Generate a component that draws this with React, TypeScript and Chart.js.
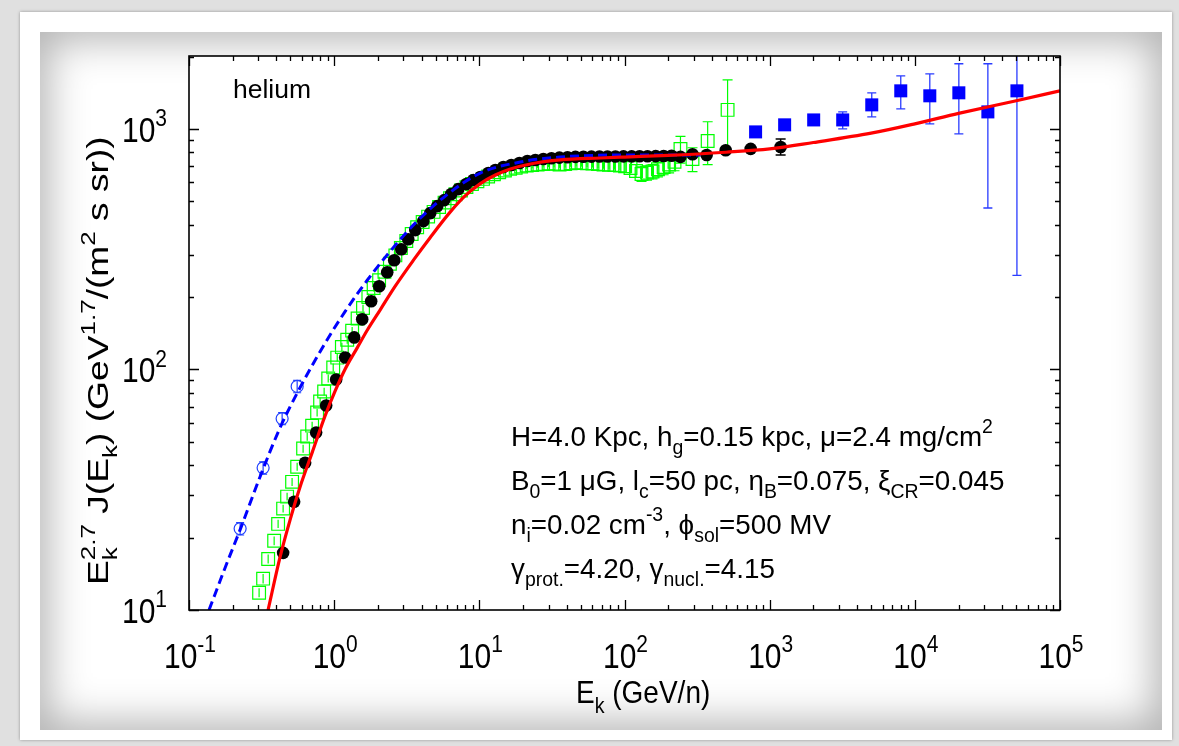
import React, { useEffect, useRef } from "react";
import { Chart, registerables } from "chart.js";

Chart.register(...registerables);

// ---------------- data ----------------
// model curve (solid red)
const modelRedE = [0.3505, 0.4242, 0.4971, 0.5827, 0.7051, 0.8668, 1.016, 1.191, 1.441, 1.689, 2.076, 2.634, 3.506, 4.592, 6.31, 8.007, 10.16, 12.89, 16.36, 22.47, 36.2, 68.3, 100, 200, 500, 1000, 2000, 5000, 10000, 20000, 50000, 100000];
const modelRedFlux = [10, 16.63, 23.71, 32.54, 45.1, 64.3, 81.5, 100.5, 123, 145.5, 177, 222, 284, 354, 452, 528, 592, 643, 681, 715, 743, 757, 764, 776, 800, 826, 878, 960, 1050, 1160, 1310, 1440];

// model curve (dashed blue)
const modelBlueE = [0.1374, 0.1771, 0.2247, 0.3088, 0.4242, 0.5827, 0.8397, 1.191, 1.689, 2.433, 3.506, 5.829, 10.16, 19.18, 36.2, 100, 334];
const modelBlueFlux = [10, 14.96, 21.54, 35.83, 57.3, 84.1, 124.7, 174.4, 234.9, 310.1, 398.1, 525.9, 655.6, 728.6, 764.2, 779, 779];

// black filled circles
const blackE = [0.445, 0.5299, 0.631, 0.7513, 0.8808, 1.032, 1.191, 1.374, 1.56, 1.799, 2.043, 2.32, 2.593, 2.898, 3.237, 3.619, 4.11, 4.592, 5.133, 5.737, 6.411, 7.165, 8.136, 9.092, 10.16, 11.54, 12.89, 14.64, 16.6, 18.88, 21.43, 24.3, 27.6, 31.4, 35.6, 40.5, 45.9, 52.1, 59.2, 67.2, 76.3, 86.6, 98.4, 112, 127, 144, 164, 186, 211, 243, 294, 368, 498, 740, 1190];
const blackFlux = [17.28, 28.18, 40.97, 54.64, 70.79, 90.85, 112.2, 135.9, 161.6, 192, 221.8, 253.6, 284.6, 316.2, 348, 379.6, 413.7, 446.7, 477.8, 506, 536, 562, 590, 613, 631, 656, 675, 695, 708, 722, 736, 743, 750, 755, 760, 763, 765, 766, 767, 768, 768, 768, 769, 769, 770, 770, 771, 772, 774, 765, 785, 779, 815, 826, 841];
const blackBarE = [1190];
const blackBarLow = [779];
const blackBarHigh = [908];

// green open squares
const greenE = [0.304, 0.324, 0.351, 0.386, 0.411, 0.445, 0.474, 0.513, 0.556, 0.611, 0.652, 0.705, 0.763, 0.8, 0.853, 0.91, 0.985, 1.05, 1.13, 1.23, 1.33, 1.45, 1.58, 1.72, 1.87, 2.04, 2.22, 2.42, 2.64, 2.88, 3.14, 3.42, 3.73, 4.07, 4.44, 4.84, 5.28, 5.76, 6.28, 6.85, 7.47, 8.15, 8.89, 9.7, 10.6, 11.5, 12.6, 13.7, 15, 16.3, 17.8, 19.4, 21.2, 23.1, 25.2, 27.5, 30, 32.7, 35.7, 39, 42.5, 46.4, 50.6, 55.2, 60.2, 65.7, 71.7, 78.2, 85.3, 93, 101, 110, 120, 131, 143, 156, 170, 186, 203, 221, 243, 294, 374, 513];
const greenFlux = [11.8, 13.5, 16.3, 19.4, 22.8, 26.4, 29.6, 34.1, 39.4, 46.9, 52.6, 58.4, 66.2, 73.6, 81, 91.7, 102, 112, 124, 133, 145, 163, 180, 200, 218, 235, 255, 275, 298, 320, 342, 366, 390, 410, 432, 452, 474, 494, 515, 535, 555, 573, 590, 606, 620, 634, 648, 660, 672, 682, 690, 698, 704, 708, 712, 715, 718, 716, 712, 715, 720, 725, 722, 720, 718, 715, 712, 710, 708, 705, 700, 688, 668, 650, 658, 665, 680, 695, 712, 730, 826, 750, 891, 1200];
const greenErr = [0.5, 0.6, 0.7, 0.8, 0.9, 1.0, 1.1, 1.3, 1.5, 1.8, 2, 2.2, 2.5, 2.8, 3, 3.5, 4, 4, 5, 5, 5, 6, 6, 7, 7, 8, 8, 9, 9, 10, 10, 11, 12, 12, 13, 13, 14, 15, 15, 16, 16, 17, 18, 18, 19, 19, 20, 20, 20, 21, 21, 21, 22, 22, 22, 22, 23, 23, 23, 24, 24, 25, 25, 26, 27, 28, 29, 30, 31, 32, 33, 35, 40, 45, 45, 45, 48, 50, 55, 60, 105, 85, 180, 400];

// blue open circles (low energy)
const blueCircE = [0.225, 0.324, 0.438, 0.556];
const blueCircFlux = [21.8, 39, 62.5, 85];
const blueCircErr = [1.3, 2.3, 3.6, 5];

// blue filled squares (high energy)
const blueSqE = [800, 1268, 2010, 3185, 5050, 8000, 12680, 20100, 31850, 50500];
const blueSqFlux = [972, 1040, 1090, 1090, 1259, 1440, 1373, 1413, 1177, 1440];
const blueSqLow = [950, 1015, 1060, 1000, 1122, 1211, 1049, 953, 469, 246];
const blueSqHigh = [995, 1065, 1120, 1178, 1413, 1663, 1694, 1866, 1866, 3000];

// axes
const xMin = 0.1;
const xMax = 100000;
const yMin = 10;
const yMax = 2010;
const xTickExps = [-1, 0, 1, 2, 3, 4, 5];
const yTickExps = [1, 2, 3];

// texts
type Seg = { t?: string; sub?: string; sup?: string };
const labelText = "helium";
const paramLines: Seg[][] = [
  [{ t: "H=4.0 Kpc, h" }, { sub: "g" }, { t: "=0.15 kpc, \u03bc=2.4 mg/cm" }, { sup: "2" }],
  [{ t: "B" }, { sub: "0" }, { t: "=1 \u03bcG, l" }, { sub: "c" }, { t: "=50 pc, \u03b7" }, { sub: "B" }, { t: "=0.075, \u03be" }, { sub: "CR" }, { t: "=0.045" }],
  [{ t: "n" }, { sub: "i" }, { t: "=0.02 cm" }, { sup: "-3" }, { t: ", \u03d5" }, { sub: "sol" }, { t: "=500 MV" }],
  [{ t: "\u03b3" }, { sub: "prot." }, { t: "=4.20, \u03b3" }, { sub: "nucl." }, { t: "=4.15" }],
];
const xTitle: Seg[] = [{ t: "E" }, { sub: "k" }, { t: " (GeV/n)" }];
const yTitle: Seg[] = [{ t: "E" }, { sub: "k", sup: "2.7" }, { t: " J(E" }, { sub: "k" }, { t: ") (GeV" }, { sup: "1.7" }, { t: "/(m" }, { sup: "2" }, { t: " s sr))" }];

const FAM = '"Liberation Sans", Arial, Helvetica, sans-serif';

function pts(xs: number[], ys: number[]) {
  return xs.map((x, i) => ({ x, y: ys[i] }));
}

function richWidth(ctx: CanvasRenderingContext2D, segs: Seg[], size: number) {
  let w = 0;
  for (const s of segs) {
    if (s.t !== undefined) {
      ctx.font = `${size}px ${FAM}`;
      w += ctx.measureText(s.t).width;
    } else {
      ctx.font = `${size * 0.7}px ${FAM}`;
      const a = s.sub ? ctx.measureText(s.sub).width : 0;
      const b = s.sup ? ctx.measureText(s.sup).width : 0;
      w += Math.max(a, b);
    }
  }
  return w;
}

function drawRich(
  ctx: CanvasRenderingContext2D,
  segs: Seg[],
  x: number,
  y: number,
  size: number,
  align: "left" | "center" | "right",
  sx = 1,
  sy = 1,
  rot = 0
) {
  ctx.save();
  ctx.translate(x, y);
  if (rot) ctx.rotate(rot);
  ctx.scale(sx, sy);
  const w = richWidth(ctx, segs, size);
  let cx = align === "center" ? -w / 2 : align === "right" ? -w : 0;
  ctx.textAlign = "left";
  ctx.textBaseline = "alphabetic";
  ctx.fillStyle = "#000";
  for (const s of segs) {
    if (s.t !== undefined) {
      ctx.font = `${size}px ${FAM}`;
      ctx.fillText(s.t, cx, 0);
      cx += ctx.measureText(s.t).width;
    } else {
      ctx.font = `${size * 0.7}px ${FAM}`;
      let a = 0;
      let b = 0;
      if (s.sub) {
        ctx.fillText(s.sub, cx, size * 0.3);
        a = ctx.measureText(s.sub).width;
      }
      if (s.sup) {
        ctx.fillText(s.sup, cx, -size * 0.45);
        b = ctx.measureText(s.sup).width;
      }
      cx += Math.max(a, b);
    }
  }
  ctx.restore();
}

type ErrSet = { E: number[]; lo: number[]; hi: number[]; color: string; width: number; cap: number; half: number };

const errorSets: ErrSet[] = [
  { E: greenE, lo: greenFlux.map((v, i) => v - greenErr[i]), hi: greenFlux.map((v, i) => v + greenErr[i]), color: "#00ff00", width: 1.2, cap: 5, half: 6.5 },
  { E: blueCircE, lo: blueCircFlux.map((v, i) => v - blueCircErr[i]), hi: blueCircFlux.map((v, i) => v + blueCircErr[i]), color: "#2040ff", width: 1.2, cap: 4, half: 6 },
  { E: blueSqE, lo: blueSqLow, hi: blueSqHigh, color: "#2a3cff", width: 1.3, cap: 4.5, half: 6.5 },
  { E: blackBarE, lo: blackBarLow, hi: blackBarHigh, color: "#000", width: 1.5, cap: 5, half: 6 },
];

const decorPlugin = {
  id: "decor",
  beforeDraw(chart: any) {
    const { ctx, chartArea: a } = chart;
    ctx.save();
    ctx.fillStyle = "#ffffff";
    ctx.fillRect(a.left, a.top, a.right - a.left, a.bottom - a.top);
    ctx.restore();
  },
  beforeDatasetsDraw(chart: any) {
    const { ctx, chartArea: a } = chart;
    const xs = chart.scales.x;
    const ys = chart.scales.y;
    ctx.save();
    ctx.beginPath();
    ctx.rect(a.left, a.top, a.right - a.left, a.bottom - a.top);
    ctx.clip();
    for (const s of errorSets) {
      ctx.strokeStyle = s.color;
      ctx.lineWidth = s.width;
      for (let i = 0; i < s.E.length; i++) {
        const px = xs.getPixelForValue(s.E[i]);
        const y1 = ys.getPixelForValue(Math.max(s.lo[i], 1));
        const y2 = ys.getPixelForValue(s.hi[i]);
        ctx.beginPath();
        ctx.moveTo(px, y1);
        ctx.lineTo(px, y2);
        if (Math.abs(y1 - y2) / 2 > s.half) {
          ctx.moveTo(px - s.cap, y1);
          ctx.lineTo(px + s.cap, y1);
          ctx.moveTo(px - s.cap, y2);
          ctx.lineTo(px + s.cap, y2);
        }
        ctx.stroke();
      }
    }
    ctx.restore();
  },
  afterDraw(chart: any) {
    const { ctx, chartArea: a } = chart;
    const xs = chart.scales.x;
    const ys = chart.scales.y;
    ctx.save();
    // ticks
    ctx.strokeStyle = "#000";
    ctx.lineWidth = 1.3;
    ctx.beginPath();
    for (const d of xTickExps) {
      for (let m = 1; m <= 9; m++) {
        const v = m * Math.pow(10, d);
        if (v > xMax * 1.0001) break;
        const px = Math.round(xs.getPixelForValue(v)) + 0.5;
        const len = m === 1 ? 10 : 5;
        ctx.moveTo(px, a.bottom);
        ctx.lineTo(px, a.bottom - len);
        ctx.moveTo(px, a.top);
        ctx.lineTo(px, a.top + len);
      }
    }
    for (const d of yTickExps) {
      for (let m = 1; m <= 9; m++) {
        const v = m * Math.pow(10, d);
        if (v > yMax) break;
        const py = Math.round(ys.getPixelForValue(v)) + 0.5;
        const len = m === 1 ? 10 : 5;
        ctx.moveTo(a.left, py);
        ctx.lineTo(a.left + len, py);
        ctx.moveTo(a.right, py);
        ctx.lineTo(a.right - len, py);
      }
    }
    ctx.stroke();
    // frame
    ctx.lineWidth = 1.6;
    ctx.strokeRect(a.left, a.top, a.right - a.left, a.bottom - a.top);

    // tick labels
    for (const e of xTickExps) {
      const px = xs.getPixelForValue(Math.pow(10, e));
      drawRich(ctx, [{ t: "10" }, { sup: String(e) }], px + 1, a.bottom + 58, 30, "center", 1, 1.15);
    }
    for (const e of yTickExps) {
      const py = ys.getPixelForValue(Math.pow(10, e));
      drawRich(ctx, [{ t: "10" }, { sup: String(e) }], a.left - 22, py + 13, 30, "right", 1, 1.15);
    }
    // axis titles
    drawRich(ctx, xTitle, 576, 703, 28, "left", 1, 1.15);
    drawRich(ctx, yTitle, 108, 585, 29.5, "left", 1.26, 1, -Math.PI / 2);

    // labels inside
    drawRich(ctx, [{ t: labelText }], 233, 98, 26.5, "left");
    paramLines.forEach((segs, i) => {
      drawRich(ctx, segs, 511, 446 + i * 44, 27.8, "left");
    });
    ctx.restore();
  },
};

export default function App() {
  const ref = useRef<HTMLCanvasElement>(null);
  useEffect(() => {
    document.body.style.margin = "0";
    const canvas = ref.current!;
    const chart = new Chart(canvas, {
      type: "scatter",
      data: {
        datasets: [
          {
            type: "line",
            label: "model nuclei",
            data: pts(modelRedE, modelRedFlux),
            borderColor: "#ff0000",
            borderWidth: 3.2,
            pointRadius: 0,
            cubicInterpolationMode: "monotone",
            fill: false,
            order: 0,
            clip: 0,
          } as any,
          {
            type: "line",
            label: "model dashed",
            data: pts(modelBlueE, modelBlueFlux),
            borderColor: "#0000ff",
            borderWidth: 3,
            borderDash: [9, 5],
            pointRadius: 0,
            cubicInterpolationMode: "monotone",
            fill: false,
            order: 1,
            clip: 0,
          } as any,
          {
            label: "blue squares",
            data: pts(blueSqE, blueSqFlux),
            pointStyle: "rect",
            pointRadius: 9.2,
            backgroundColor: "#0000ff",
            borderWidth: 0,
            order: 2,
          },
          {
            label: "blue circles",
            data: pts(blueCircE, blueCircFlux),
            pointStyle: "circle",
            pointRadius: 6,
            backgroundColor: "rgba(0,0,0,0)",
            borderColor: "#2040ff",
            borderWidth: 1.2,
            order: 3,
          },
          {
            label: "black",
            data: pts(blackE, blackFlux),
            pointStyle: "circle",
            pointRadius: 6.3,
            backgroundColor: "#000",
            borderWidth: 0,
            order: 4,
          },
          {
            label: "green",
            data: pts(greenE, greenFlux),
            pointStyle: "rect",
            pointRadius: 9,
            backgroundColor: "rgba(0,0,0,0)",
            borderColor: "#00ff00",
            borderWidth: 1.2,
            order: 5,
          },
        ],
      },
      options: {
        responsive: false,
        animation: false,
        devicePixelRatio: 1,
        layout: { padding: { left: 189, top: 56, right: 119, bottom: 136 } },
        plugins: { legend: { display: false }, tooltip: { enabled: false } },
        scales: {
          x: { type: "logarithmic", min: xMin, max: xMax, display: false },
          y: { type: "logarithmic", min: yMin, max: yMax, display: false },
        },
      },
      plugins: [decorPlugin],
    });
    return () => chart.destroy();
  }, []);

  return (
    <div style={{ position: "absolute", left: 0, top: 0, width: 1179, height: 746, overflow: "hidden", background: "#e0e0e0" }}>
      <div style={{ position: "absolute", left: 20, top: 12, width: 1152, height: 728, background: "#ffffff", boxShadow: "0 0 3px rgba(0,0,0,0.35)" }} />
      <div style={{ position: "absolute", left: 40, top: 32, width: 1122, height: 698, background: "#ffffff", boxShadow: "inset 0 0 40px 8px rgba(0,0,0,0.3)" }} />
      <canvas ref={ref} width={1179} height={746} style={{ position: "absolute", left: 0, top: 0, width: 1179, height: 746 }} />
    </div>
  );
}
